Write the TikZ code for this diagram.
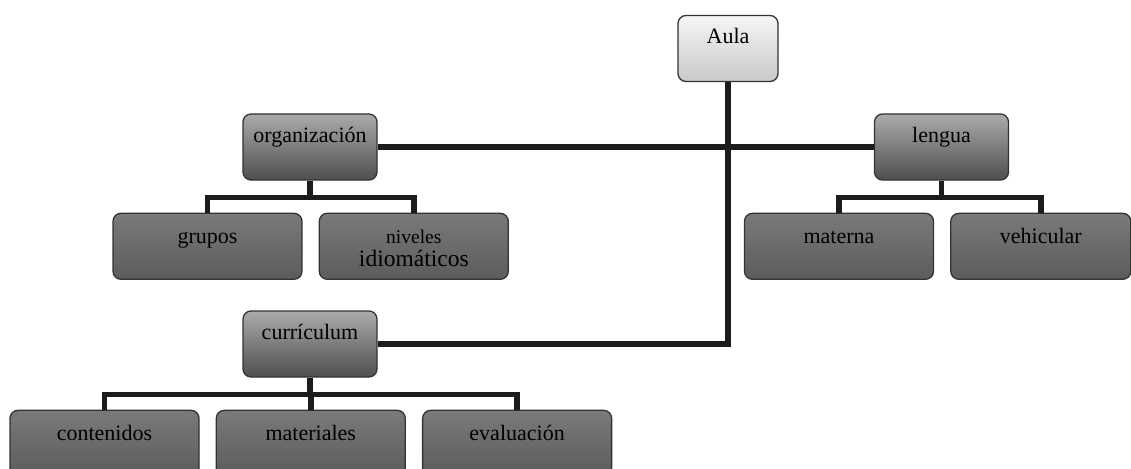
\documentclass[tikz,border=0pt]{standalone}
\usepackage{fontspec}
\setmainfont{Liberation Serif}
\usepackage{xcolor}
\usetikzlibrary{positioning}

\definecolor{borde}{HTML}{333333}
\definecolor{linea}{HTML}{1C1C1C}

\begin{document}
\begin{tikzpicture}[x=1pt,y=1pt,node distance=32pt,
    caja/.style={draw=borde,line width=1.3pt,rounded corners=8pt,
      inner ysep=0pt,text depth=38pt,text height=28pt,
      font=\fontsize{22}{26}\selectfont},
    raiz/.style={caja,minimum width=100pt,top color=gray!8,bottom color=gray!42},
    rama/.style={caja,minimum width=134pt,top color=gray!66,bottom color=gray!90!white!56!black},
    hoja/.style={caja,minimum width=189pt,text height=30pt,text depth=36pt,
      top color=gray!90!black!95,bottom color=black!64},
    enlace/.style={draw=linea,line width=5.5pt}]

\useasboundingbox (0,0) rectangle (1131,-468);

\node[raiz] (aula)  at (728,-48.5) {Aula};
\node[rama] (org)   at (310,-147)  {organización};
\node[rama] (len)   at (941.5,-147) {lengua};
\node[rama] (curr)  at (310,-344)  {currículum};

\node[hoja] (grupos)  [below=32pt of org, xshift=-102.5pt] {grupos};
\node[hoja] (niveles) [right=16pt of grupos] {\fontsize{22}{23}\selectfont
  \begin{tabular}[t]{@{}c@{}}\fontsize{19.5}{23}\selectfont niveles\\
  \fontsize{23.5}{23}\selectfont idiomáticos\end{tabular}};

\node[hoja] (materna)   [below=32pt of len, xshift=-102.5pt] {materna};
\node[hoja,minimum width=180pt] (vehicular) [right=16pt of materna] {vehicular};

\node[hoja] (conten)  [below=32pt of curr, xshift=-205.5pt] {contenidos};
\node[hoja] (mater)   [right=16pt of conten] {materiales};
\node[hoja] (evalua)  [right=16pt of mater] {evaluación};

\draw[enlace] (aula.south) |- (curr.east);
\draw[enlace] (org.east) -- (len.west);

\draw[enlace] (org.south) -- ++(0,-17);
\draw[enlace] (grupos.north) -- ++(0,15) -| (niveles.north);

\draw[enlace] (len.south) -- ++(0,-17);
\draw[enlace] (materna.north) -- ++(0,15) -| (vehicular.north);

\draw[enlace] (curr.south) -- ++(0,-17);
\draw[enlace] (conten.north) -- ++(0,15) -| (evalua.north);
\draw[enlace] (mater.north) -- ++(0,15);

\end{tikzpicture}
\end{document}
